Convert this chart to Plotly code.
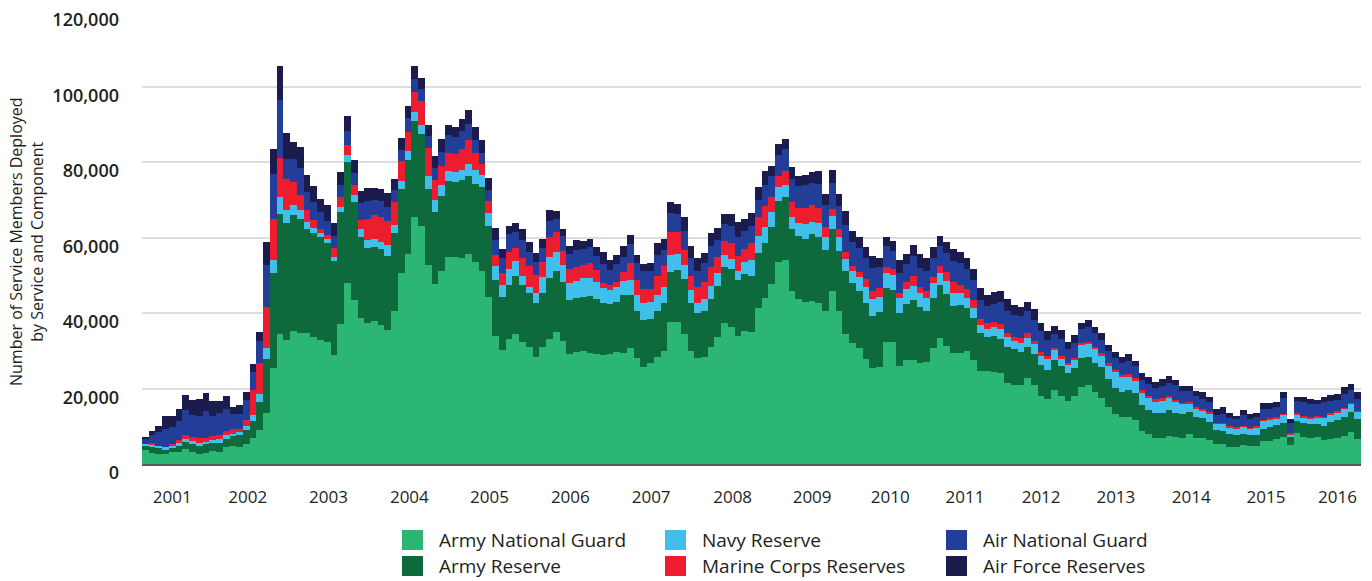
import plotly.graph_objects as go
import numpy as np

# Values in thousands of service members, one entry per monthly bar (181 bars)
army_national_guard = [
    3.6, 2.9, 2.6, 2.6, 3.1, 3.2, 4.0, 3.2, 2.6, 2.9, 3.4, 3.2, 4.5, 4.8, 4.5, 5.2, 7.0, 8.9, 13.6, 25.3,
    34.4, 32.8, 35.2, 34.8, 34.6, 33.7, 32.8, 32.2, 28.9, 37.1, 48.0, 43.4, 38.8, 37.4, 37.9, 36.8, 35.5, 40.6, 50.7, 55.6,
    65.5, 63.0, 52.7, 47.7, 51.2, 54.9, 54.9, 54.5, 55.6, 53.6, 51.1, 44.3, 33.9, 30.2, 33.0, 34.4, 32.2, 31.1, 28.3, 30.9,
    33.0, 34.9, 32.6, 29.1, 29.8, 29.9, 29.5, 29.1, 28.9, 29.1, 29.7, 29.5, 30.8, 28.2, 25.8, 26.7, 28.4, 30.0, 37.7, 37.7,
    34.4, 29.9, 28.2, 28.4, 30.9, 33.7, 37.4, 36.4, 33.9, 35.2, 35.1, 41.4, 43.9, 47.7, 53.6, 54.0, 45.9, 43.6, 43.0, 43.3,
    42.7, 40.4, 45.7, 40.4, 34.4, 32.0, 30.6, 27.9, 25.3, 25.8, 32.3, 32.3, 26.0, 27.5, 27.5, 26.7, 27.0, 30.6, 33.5, 31.3,
    29.3, 29.5, 29.9, 27.5, 24.6, 24.6, 24.4, 24.2, 21.5, 20.9, 20.9, 22.7, 20.9, 18.0, 17.2, 19.6, 18.0, 16.8, 18.0, 20.3,
    20.9, 19.2, 17.6, 15.2, 13.2, 12.5, 12.5, 11.7, 8.7, 7.9, 6.8, 6.8, 7.5, 7.2, 7.0, 7.9, 7.0, 7.0, 6.4, 5.3,
    5.3, 4.6, 4.6, 5.0, 4.9, 4.9, 6.1, 6.1, 6.6, 7.2, 5.0, 8.1, 7.1, 6.8, 7.1, 6.4, 6.6, 7.0, 7.4, 8.6,
    6.6,
]
army_reserve = [
    1.3, 1.8, 1.6, 1.0, 1.1, 1.5, 1.7, 2.0, 2.2, 2.6, 2.1, 2.4, 2.0, 2.5, 3.1, 3.7, 4.5, 7.4, 14.2, 25.2,
    31.8, 31.0, 30.8, 30.0, 27.7, 27.4, 27.4, 26.4, 24.9, 29.7, 32.1, 26.1, 21.4, 19.9, 19.7, 20.1, 19.6, 20.7, 22.1, 24.9,
    25.4, 24.4, 20.1, 19.1, 19.8, 20.1, 19.9, 20.7, 20.7, 20.7, 22.2, 18.7, 14.8, 14.0, 14.4, 15.4, 15.2, 14.3, 14.4, 14.3,
    16.2, 16.3, 15.5, 14.3, 14.3, 14.3, 15.0, 14.5, 13.7, 13.3, 13.1, 15.3, 14.0, 12.4, 12.3, 11.6, 12.2, 12.7, 13.2, 13.7,
    14.6, 12.8, 11.9, 12.0, 12.7, 13.5, 14.9, 15.2, 14.8, 15.1, 14.7, 14.6, 14.7, 15.2, 16.1, 16.8, 16.4, 16.8, 16.6, 17.5,
    17.5, 16.3, 16.6, 16.1, 16.8, 16.0, 15.3, 14.8, 14.0, 14.4, 14.4, 13.8, 13.9, 14.8, 15.9, 15.0, 13.6, 13.5, 13.9, 13.7,
    12.6, 12.6, 11.3, 11.3, 10.0, 9.1, 9.5, 8.8, 9.6, 9.6, 8.7, 8.4, 8.2, 8.2, 7.7, 7.9, 8.0, 7.4, 7.3, 7.9,
    7.5, 7.5, 8.2, 7.3, 7.0, 6.7, 7.1, 7.2, 6.8, 6.4, 6.6, 6.8, 6.8, 6.4, 6.2, 6.0, 5.5, 5.3, 4.8, 3.7,
    3.4, 3.3, 3.1, 2.9, 2.8, 2.8, 3.2, 3.8, 3.7, 3.6, 2.2, 3.3, 3.7, 3.8, 3.5, 3.7, 4.6, 4.7, 5.1, 5.3,
    5.3,
]
navy_reserve = [
    0.3, 0.5, 0.7, 0.9, 0.7, 0.8, 0.8, 0.8, 0.8, 0.2, 0.8, 0.9, 1.1, 0.6, 0.8, 1.3, 1.5, 2.2, 2.8, 3.5,
    4.4, 3.5, 2.6, 2.5, 1.7, 1.5, 1.1, 1.0, 1.1, 1.4, 1.8, 1.8, 2.0, 2.0, 2.0, 2.0, 2.9, 2.0, 2.2, 2.5,
    2.3, 2.4, 3.5, 3.1, 2.9, 2.6, 2.6, 2.7, 3.3, 3.6, 3.3, 3.4, 3.7, 3.2, 4.2, 4.0, 2.4, 1.6, 2.5, 4.4,
    5.7, 5.0, 4.6, 4.6, 4.5, 5.0, 4.9, 4.7, 4.1, 3.7, 4.0, 3.8, 3.9, 4.2, 4.5, 4.5, 4.2, 4.3, 4.5, 4.2,
    3.7, 3.4, 2.5, 3.2, 3.6, 3.3, 3.1, 2.7, 2.5, 3.3, 4.2, 4.4, 4.3, 3.9, 3.8, 3.1, 3.2, 3.4, 3.9, 3.4,
    3.7, 3.5, 3.4, 3.7, 3.1, 3.2, 3.7, 4.3, 4.3, 4.0, 3.8, 4.0, 4.2, 4.1, 3.8, 3.5, 3.5, 3.8, 3.3, 3.6,
    3.3, 3.3, 2.9, 2.6, 2.2, 2.1, 2.3, 2.7, 2.6, 2.1, 2.4, 2.4, 2.6, 2.4, 2.8, 2.7, 1.8, 1.9, 2.2, 3.5,
    3.6, 3.7, 2.9, 3.5, 4.1, 3.8, 3.5, 3.2, 3.4, 3.3, 2.9, 3.2, 3.3, 2.9, 2.7, 2.2, 2.3, 2.0, 2.2, 1.8,
    2.0, 1.9, 1.7, 2.0, 1.6, 2.0, 2.1, 1.9, 1.7, 2.2, 0.5, 1.8, 1.6, 1.5, 1.8, 2.2, 1.9, 2.0, 2.1, 2.0,
    1.9,
]
marine_corps_reserves = [
    0.0, 0.3, 0.0, 0.0, 0.3, 0.8, 1.1, 1.1, 1.2, 1.1, 1.0, 1.1, 1.1, 1.3, 1.0, 1.4, 6.6, 8.2, 11.1, 10.9,
    10.5, 8.2, 6.0, 4.0, 3.3, 2.0, 0.9, 1.1, 2.4, 2.6, 2.6, 2.6, 2.4, 5.6, 6.4, 6.6, 6.4, 6.2, 5.3, 5.0,
    5.3, 6.4, 7.5, 5.3, 5.0, 4.9, 4.7, 5.5, 6.3, 4.4, 3.0, 3.3, 3.0, 3.1, 4.6, 3.3, 4.7, 5.4, 4.9, 4.0,
    5.3, 5.3, 3.7, 3.6, 3.5, 3.5, 3.9, 3.1, 1.3, 1.3, 1.5, 2.3, 4.6, 3.9, 3.7, 3.5, 5.0, 5.5, 6.1, 5.9,
    4.0, 3.7, 4.4, 4.7, 5.1, 4.4, 3.7, 4.2, 3.9, 3.4, 4.6, 4.9, 5.5, 4.0, 2.8, 3.7, 4.0, 4.1, 4.4, 4.4,
    4.0, 2.5, 1.9, 2.0, 1.9, 1.3, 1.3, 1.9, 2.1, 2.3, 1.6, 1.5, 1.3, 1.9, 2.6, 1.6, 1.7, 1.7, 1.8, 2.2,
    3.1, 2.0, 2.3, 2.0, 1.6, 1.5, 1.3, 1.3, 0.9, 1.1, 1.3, 1.1, 0.9, 1.0, 0.9, 0.6, 0.8, 0.6, 0.7, 0.3,
    0.4, 0.7, 0.6, 0.8, 0.6, 0.6, 0.7, 0.6, 0.7, 0.5, 0.8, 0.6, 0.4, 0.5, 0.3, 0.4, 0.4, 0.4, 0.5, 0.1,
    0.2, 0.3, 0.3, 0.3, 0.3, 0.4, 0.3, 0.3, 0.5, 0.2, 0.4, 0.4, 0.3, 0.4, 0.3, 0.2, 0.5, 0.4, 0.3, 0.3,
    0.2,
]
air_national_guard = [
    1.3, 2.1, 3.5, 4.9, 4.5, 5.0, 6.6, 5.8, 5.8, 7.2, 5.3, 5.8, 6.0, 4.0, 3.8, 5.3, 4.9, 5.8, 11.0, 11.9,
    15.3, 5.2, 6.1, 7.2, 4.8, 4.9, 4.6, 3.7, 3.1, 3.1, 3.7, 3.3, 4.5, 4.9, 3.9, 4.2, 3.8, 3.1, 2.9, 3.7,
    3.5, 3.1, 3.1, 3.3, 3.7, 4.7, 4.6, 4.8, 4.2, 3.5, 2.9, 2.9, 3.9, 4.0, 4.6, 4.3, 4.8, 3.8, 3.5, 3.5,
    4.2, 3.4, 4.0, 4.0, 4.6, 4.2, 4.3, 3.7, 5.0, 4.0, 4.7, 4.0, 5.0, 4.6, 4.9, 4.9, 5.6, 4.2, 4.9, 4.7,
    5.1, 4.7, 4.2, 4.9, 5.4, 4.4, 4.5, 4.5, 5.1, 4.8, 4.4, 4.6, 5.5, 5.5, 5.6, 5.8, 6.0, 5.7, 6.0, 5.9,
    6.3, 5.9, 6.9, 6.2, 7.1, 6.4, 6.4, 5.8, 6.1, 5.6, 5.6, 4.9, 5.3, 4.7, 5.3, 5.0, 5.4, 4.9, 5.2, 5.2,
    5.6, 5.9, 5.3, 5.3, 5.0, 4.6, 4.9, 6.0, 5.9, 5.8, 5.9, 6.0, 5.5, 5.6, 4.2, 3.6, 4.4, 3.7, 3.8, 3.7,
    4.0, 3.5, 3.5, 3.1, 3.3, 3.2, 3.5, 3.3, 2.7, 3.1, 3.1, 3.3, 3.5, 3.8, 3.1, 2.8, 2.8, 2.5, 2.4, 2.1,
    2.3, 2.0, 2.2, 2.8, 2.3, 2.3, 2.8, 2.6, 2.5, 4.2, 2.7, 3.1, 3.6, 3.4, 3.2, 3.8, 3.2, 2.9, 3.6, 3.4,
    3.2,
]
air_force_reserves = [
    0.6, 1.1, 1.8, 3.2, 2.9, 3.4, 4.0, 4.0, 4.5, 4.7, 4.0, 3.2, 3.2, 1.8, 2.3, 2.3, 2.0, 2.4, 6.2, 6.6,
    8.9, 6.9, 4.5, 5.4, 4.5, 4.1, 3.3, 4.2, 3.4, 3.5, 4.0, 3.3, 3.2, 3.2, 3.1, 3.1, 3.7, 2.9, 3.1, 3.1,
    3.4, 2.9, 2.9, 3.1, 3.5, 2.6, 2.7, 3.1, 3.7, 3.6, 3.3, 3.1, 3.1, 2.5, 2.3, 2.4, 2.9, 2.7, 2.4, 2.4,
    2.9, 2.1, 1.8, 2.1, 2.6, 2.2, 1.9, 2.3, 3.1, 2.6, 2.4, 2.8, 2.4, 2.1, 1.8, 2.0, 3.1, 2.8, 2.9, 2.6,
    3.7, 3.2, 3.3, 2.8, 3.4, 3.1, 2.6, 3.2, 3.8, 3.0, 3.4, 3.6, 3.8, 2.6, 2.9, 2.7, 3.1, 2.7, 2.7, 2.8,
    3.4, 2.9, 3.4, 3.1, 3.7, 2.8, 2.9, 2.7, 3.3, 2.4, 2.5, 2.6, 3.3, 2.6, 2.9, 3.8, 3.5, 2.9, 2.7, 2.8,
    3.1, 2.9, 3.0, 3.0, 3.1, 3.0, 3.1, 2.8, 3.2, 2.6, 2.3, 2.2, 2.9, 2.1, 2.4, 2.2, 2.5, 1.8, 2.2, 1.6,
    1.7, 1.8, 2.0, 1.6, 1.4, 1.5, 1.8, 1.3, 1.7, 1.8, 1.6, 1.7, 1.8, 1.5, 1.4, 1.4, 1.3, 1.8, 1.4, 1.6,
    1.8, 1.5, 0.8, 1.3, 1.3, 1.2, 1.7, 1.5, 1.5, 1.6, 1.1, 1.0, 1.4, 1.2, 1.1, 1.4, 1.5, 1.5, 1.8, 1.6,
    1.8,
]

series_names = ["Army National Guard", "Army Reserve", "Navy Reserve",
                "Marine Corps Reserves", "Air National Guard", "Air Force Reserves"]
series_values = [army_national_guard, army_reserve, navy_reserve,
                 marine_corps_reserves, air_national_guard, air_force_reserves]
series_colors = ["#2bb673", "#0e6a3d", "#40bfea", "#ed1c2e", "#233e98", "#1b1b4e"]

year_labels = ["2001", "2002", "2003", "2004", "2005", "2006", "2007", "2008",
               "2009", "2010", "2011", "2012", "2013", "2014", "2015", "2016"]
year_label_bar = [4.0, 15.2, 27.2, 39.2, 51.1, 63.1, 75.1, 87.2,
                  99.0, 110.6, 121.7, 133.0, 144.1, 155.3, 166.4, 177.0]

y_ticks = [0, 20000, 40000, 60000, 80000, 100000, 120000]

n = len(army_national_guard)
x = list(range(n))

fig = go.Figure()
for name, vals, col in zip(series_names, series_values, series_colors):
    fig.add_trace(go.Bar(
        x=x, y=np.array(vals) * 1000, name=name,
        marker=dict(color=col, line=dict(width=0)),
        showlegend=False,
    ))

# plot-area geometry in pixels
W, H = 1372, 581
L, R, T, B = 142, 11, 11, 117
PW, PH = W - L - R, H - T - B

def px_x(p):
    return (p - L) / PW

def px_y(p):
    return (H - B - p) / PH

font_fam = "Open Sans, Lato, sans-serif"

# manual legend (3 columns x 2 rows)
legend_order = [0, 2, 4, 1, 3, 5]
col_swatch_x = [402, 665, 946]
row_center_y = [540, 566]
shapes = []
annotations = []
for k, idx in enumerate(legend_order):
    r, c = divmod(k, 3)
    sx = col_swatch_x[c]
    cy = row_center_y[r]
    shapes.append(dict(type="rect", xref="paper", yref="paper",
                       x0=px_x(sx), x1=px_x(sx + 21), y0=px_y(cy - 10), y1=px_y(cy + 10),
                       fillcolor=series_colors[idx], line=dict(width=0)))
    annotations.append(dict(xref="paper", yref="paper", x=px_x(sx + 35), y=px_y(cy),
                            xanchor="left", yanchor="middle", showarrow=False,
                            text=series_names[idx],
                            font=dict(family=font_fam, size=19, color="#231f20")))

annotations.append(dict(xref="paper", yref="paper", x=px_x(27), y=px_y(241),
                        xanchor="center", yanchor="middle", showarrow=False,
                        textangle=-90,
                        text="Number of Service Members Deployed<br>by Service and Component",
                        font=dict(family=font_fam, size=16, color="#231f20")))

fig.update_layout(
    width=W, height=H, autosize=False,
    margin=dict(l=L, r=R, t=T, b=B, pad=0),
    barmode="stack", bargap=0,
    plot_bgcolor="white", paper_bgcolor="white",
    shapes=shapes, annotations=annotations,
    xaxis=dict(range=[-0.5, n - 0.5], tickmode="array", tickvals=year_label_bar,
               ticktext=year_labels, showgrid=False, zeroline=False, automargin=False,
               showline=True, linecolor="#58595b", linewidth=2, ticks="",
               ticklabelstandoff=17,
               tickfont=dict(family=font_fam, size=17, color="#231f20")),
    yaxis=dict(range=[0, 120000], tickmode="array", tickvals=y_ticks,
               tickformat=",", showgrid=True, gridcolor="#dcdddf", gridwidth=2,
               zeroline=False, showline=False, ticks="", automargin=False,
               ticklabelstandoff=22, ticklabelshift=9, ticklabeloverflow="allow",
               tickfont=dict(family=font_fam, size=18, color="#231f20", weight=600)),
)

fig.write_html("out.html",
               config={"displayModeBar": False},
               post_script="document.body.style.margin='0';document.body.style.overflow='hidden';")
